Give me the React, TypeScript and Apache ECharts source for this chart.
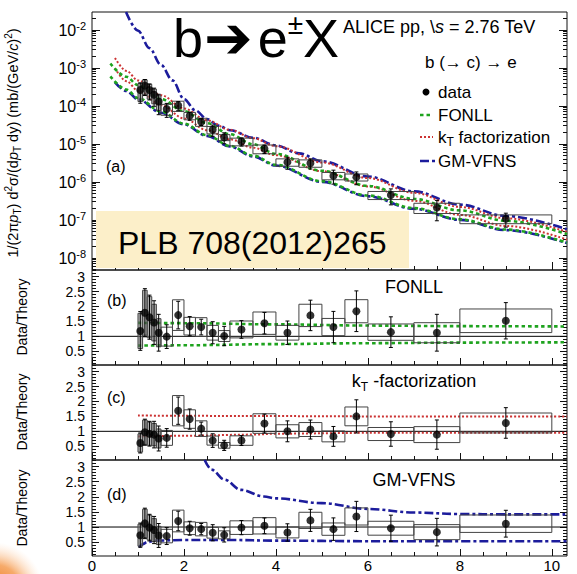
import React, { useEffect, useRef } from "react";
import * as echarts from "echarts";

const FONT = "'Liberation Sans', Arial, Helvetica, sans-serif";

// ---------- measured data (b -> e cross section) ----------
const binEdges = [1.0, 1.1, 1.2, 1.3, 1.4, 1.5, 1.75, 2.0, 2.25, 2.5, 2.75, 3.0, 3.5, 4.0, 4.5, 5.0, 5.5, 6.0, 7.0, 8.0, 10.0];
const ptCenters = [1.05, 1.15, 1.25, 1.35, 1.45, 1.625, 1.875, 2.125, 2.375, 2.625, 2.875, 3.25, 3.75, 4.25, 4.75, 5.25, 5.75, 6.5, 7.5, 9.0];
const dataValues = [2.6e-4, 3.4e-4, 2.6e-4, 1.95e-4, 1.3e-4, 8.3e-5, 1.02e-4, 5.5e-5, 3.8e-5, 2.35e-5, 1.48e-5, 1.15e-5, 7.4e-6, 3.3e-6, 3.1e-6, 1.45e-6, 1.33e-6, 4.5e-7, 2.1e-7, 1.07e-7];
const statRel = [0.55, 0.45, 0.45, 0.5, 0.55, 0.4, 0.27, 0.24, 0.2, 0.33, 0.32, 0.24, 0.25, 0.35, 0.3, 0.4, 0.37, 0.45, 0.55, 0.4];
const sysRel = [0.5, 0.42, 0.42, 0.42, 0.42, 0.32, 0.3, 0.22, 0.24, 0.22, 0.18, 0.23, 0.26, 0.22, 0.22, 0.22, 0.21, 0.24, 0.3, 0.26];

// ---------- data / theory ----------
const ratioFONLL = [1.18, 1.79, 1.64, 1.46, 1.12, 0.99, 1.71, 1.34, 1.31, 1.12, 1.01, 1.23, 1.44, 1.12, 1.7, 1.31, 1.84, 1.14, 1.12, 1.52];
const ratioKT = [0.61, 0.97, 0.92, 0.89, 0.76, 0.78, 1.69, 1.41, 1.09, 0.69, 0.53, 0.69, 1.26, 1.0, 1.06, 0.83, 1.5, 0.91, 0.89, 1.28];
const ratioGMVFNS = [0.73, 1.12, 0.98, 0.9, 0.72, 0.7, 1.2, 0.96, 0.93, 0.81, 0.74, 0.98, 1.04, 0.82, 1.22, 0.93, 1.35, 0.96, 0.83, 1.11];

// ---------- theory curves, top panel ----------
const fonllPt = [0.4, 0.75, 1, 1.5, 2, 2.5, 3, 3.5, 4, 5, 6, 7, 8, 9, 10.33];
const fonllUpper = [1.3e-3, 5.81e-4, 3.5e-4, 1.51e-4, 7.21e-5, 3.51e-5, 1.79e-5, 9.75e-6, 5.45e-6, 1.95e-6, 7.83e-7, 3.55e-7, 1.77e-7, 9.44e-8, 4.21e-8];
const fonllLower = [5.97e-4, 2.67e-4, 1.61e-4, 7.08e-5, 3.41e-5, 1.69e-5, 8.81e-6, 4.91e-6, 2.8e-6, 1.04e-6, 4.38e-7, 2.03e-7, 1.03e-7, 5.55e-8, 2.5e-8];
const ktPt = [0.5, 0.75, 1, 1.5, 2, 2.5, 3, 3.5, 4, 5, 6, 7, 8, 9, 10.33];
const ktUpper = [1.82e-3, 8.32e-4, 4.68e-4, 1.91e-4, 8.51e-5, 4.17e-5, 2.34e-5, 1.41e-5, 8.71e-6, 3.24e-6, 1.26e-6, 5.13e-7, 2.19e-7, 1.1e-7, 4.79e-8];
const ktLower = [9.77e-4, 4.47e-4, 2.51e-4, 1.05e-4, 4.68e-5, 2.29e-5, 1.32e-5, 7.94e-6, 5.01e-6, 1.91e-6, 7.59e-7, 3.16e-7, 1.35e-7, 6.92e-8, 3.02e-8];
const gmUpperPt = [0.74, 1, 1.25, 1.5, 1.75, 2, 2.25, 2.5, 2.75, 3, 3.5, 4, 4.5, 5, 6, 7, 8, 9, 10.33];
const gmUpper = [2.95e-2, 9.55e-3, 3.31e-3, 1.2e-3, 4.68e-4, 1.51e-4, 7.59e-5, 4.47e-5, 3.02e-5, 2.29e-5, 1.45e-5, 9.12e-6, 5.62e-6, 3.47e-6, 1.38e-6, 5.62e-7, 2.51e-7, 1.26e-7, 5.62e-8];
const gmLowerPt = [0.5, 0.75, 1, 1.5, 2, 2.5, 3, 3.5, 4, 5, 6, 7, 8, 9, 10.33];
const gmLower = [4.17e-4, 2.45e-4, 1.48e-4, 6.61e-5, 3.24e-5, 1.62e-5, 8.51e-6, 4.68e-6, 2.69e-6, 1.0e-6, 4.17e-7, 1.95e-7, 1.0e-7, 5.37e-8, 2.45e-8];

// ---------- theory uncertainty / central, ratio panels ----------
const fonllRatioPt = [1.0, 2, 4, 6, 8, 10.33];
const fonllRatioUp = [1.45, 1.44, 1.4, 1.36, 1.34, 1.33];
const fonllRatioLow = [0.69, 0.7, 0.74, 0.77, 0.79, 0.8];
const ktRatioPt = [1.0, 2, 3.5, 4, 6, 10.33];
const ktRatioUp = [1.53, 1.52, 1.51, 1.51, 1.5, 1.5];
const ktRatioLow = [0.83, 0.85, 0.89, 0.92, 0.95, 0.95];
const gmRatioUpPt = [2.45, 2.6, 2.88, 3.24, 3.74, 4, 5, 6, 7, 8, 9, 10.33];
const gmRatioUp = [3.22, 2.9, 2.57, 2.23, 2.01, 1.95, 1.79, 1.6, 1.48, 1.43, 1.42, 1.42];
const gmRatioLowPt = [1.02, 1.1, 1.2, 1.4, 2, 3, 4, 6, 10.33];
const gmRatioLow = [0.33, 0.43, 0.5, 0.55, 0.57, 0.57, 0.55, 0.53, 0.53];

// ---------- axes ----------
const X_MIN = 0;
const X_MAX = 10.33;
const LOG_MIN = -8.32;
const LOG_MAX = -1.53;
const R_MIN = 0.04;
const R_MAX = 3.22;
const xMajorTicks = [0, 2, 4, 6, 8, 10];
const xMinorTicks = Array.from({ length: 21 }, (_, k) => k * 0.5);
const topMajorTicks = [-8, -7, -6, -5, -4, -3, -2];
const topMinorTicks: number[] = [];
for (let n = -9; n <= -2; n++) {
  for (let k = 2; k <= 9; k++) {
    const v = n + Math.log10(k);
    if (v > LOG_MIN && v < LOG_MAX) topMinorTicks.push(v);
  }
}
const ratioMajorTicks = [0.5, 1, 1.5, 2, 2.5, 3];
const ratioMinorTicks = Array.from({ length: 32 }, (_, k) => Math.round((k + 1) * 10) / 100).filter((v) => v > R_MIN && v < R_MAX);

const GREEN = "#1ea31e";
const RED = "#cc3333";
const BLUE = "#1c1c9c";

const panels = [
  { top: 12, h: 258 },
  { top: 270, h: 95 },
  { top: 365, h: 95 },
  { top: 460, h: 96 },
];

function buildOption(): any {
  const L = 92;
  const W = 475;
  const lg = (v: number) => Math.log10(v);
  const ident = (v: number) => v;

  const grid = panels.map((p) => ({
    left: L,
    top: p.top,
    width: W,
    height: p.h,
    show: true,
    borderColor: "#111",
    borderWidth: 1,
    backgroundColor: "transparent",
    containLabel: false,
    outerBoundsMode: "none",
  }));

  const xAxis: any[] = [];
  const yAxis: any[] = [];
  panels.forEach((p, i) => {
    const base = {
      type: "value",
      gridIndex: i,
      min: X_MIN,
      max: X_MAX,
      position: "bottom",
      axisLine: { show: false, onZero: false },
      splitLine: { show: false },
    };
    xAxis.push({
      ...base,
      axisTick: { show: true, inside: true, length: i === 0 ? 8 : 7, customValues: xMajorTicks, lineStyle: { color: "#111", width: 1 } },
      axisLabel: {
        show: i === 3,
        customValues: xMajorTicks,
        margin: 2,
        fontSize: 15,
        lineHeight: 15,
        fontFamily: FONT,
        color: "#000",
      },
    });
    xAxis.push({
      ...base,
      axisTick: { show: true, inside: true, length: 4, customValues: xMinorTicks, lineStyle: { color: "#111", width: 1 } },
      axisLabel: { show: false },
    });

    const isTop = i === 0;
    const ybase = {
      type: "value",
      gridIndex: i,
      min: isTop ? LOG_MIN : R_MIN,
      max: isTop ? LOG_MAX : R_MAX,
      axisLine: { show: false, onZero: false },
      splitLine: { show: false },
    };
    const major = isTop ? topMajorTicks : ratioMajorTicks;
    const minor = isTop ? topMinorTicks : ratioMinorTicks;
    (["left", "right"] as const).forEach((pos) => {
      yAxis.push({
        ...ybase,
        position: pos,
        axisTick: { show: true, inside: true, length: isTop ? 8 : 7, customValues: major, lineStyle: { color: "#111", width: 1 } },
        axisLabel:
          pos === "left"
            ? isTop
              ? {
                  show: true,
                  customValues: major,
                  margin: 6,
                  formatter: (v: number) => `{b|10}{s|${Math.round(v)}}`,
                  rich: {
                    b: { fontSize: 16, lineHeight: 18, verticalAlign: "bottom", fontFamily: FONT, color: "#000" },
                    s: { fontSize: 11, lineHeight: 11, verticalAlign: "top", fontFamily: FONT, color: "#000" },
                  },
                }
              : {
                  show: true,
                  customValues: major,
                  margin: 7,
                  fontSize: 14,
                  fontFamily: FONT,
                  color: "#000",
                }
            : { show: false },
      });
      yAxis.push({
        ...ybase,
        position: pos,
        axisTick: { show: true, inside: true, length: 4, customValues: minor, lineStyle: { color: "#111", width: 1 } },
        axisLabel: { show: false },
      });
    });
  });

  const series: any[] = [];
  const line = (gi: number, pts: number[], vals: number[], color: string, width: number, dash: number[], tf: (v: number) => number) => {
    series.push({
      type: "line",
      xAxisIndex: 2 * gi,
      yAxisIndex: 4 * gi,
      data: pts.map((x, k) => [x, tf(vals[k])]),
      symbol: "none",
      smooth: 0.35,
      smoothMonotone: "x",
      lineStyle: { color, width, type: dash },
      silent: true,
      clip: true,
      z: 2,
    });
  };

  const boxes = (gi: number, centers: number[], tfLo: (k: number) => number, tfHi: (k: number) => number) => {
    series.push({
      type: "custom",
      xAxisIndex: 2 * gi,
      yAxisIndex: 4 * gi,
      clip: true,
      silent: true,
      z: 3,
      data: centers.map((_, k) => [binEdges[k], binEdges[k + 1], tfLo(k), tfHi(k)]),
      renderItem: (params: any, api: any) => {
        const x0 = api.value(0);
        const x1 = api.value(1);
        const p0 = api.coord([x0, api.value(3)]);
        const p1 = api.coord([x1, api.value(2)]);
        const narrow = x1 - x0 < 0.15;
        return {
          type: "rect",
          shape: { x: p0[0], y: p0[1], width: p1[0] - p0[0], height: p1[1] - p0[1] },
          style: { fill: narrow ? "rgba(125,125,125,0.6)" : "none", stroke: "#444", lineWidth: 1 },
        };
      },
    });
  };

  const errorBars = (gi: number, centers: number[], lo: (k: number) => number, hi: (k: number) => number) => {
    series.push({
      type: "custom",
      xAxisIndex: 2 * gi,
      yAxisIndex: 4 * gi,
      clip: true,
      silent: true,
      z: 4,
      data: centers.map((x, k) => [x, lo(k), hi(k)]),
      renderItem: (params: any, api: any) => {
        const x = api.value(0);
        const a = api.coord([x, api.value(1)]);
        const b = api.coord([x, api.value(2)]);
        const st = { stroke: "#000", lineWidth: 1 };
        return {
          type: "group",
          children: [
            { type: "line", shape: { x1: a[0], y1: a[1], x2: b[0], y2: b[1] }, style: st },
            { type: "line", shape: { x1: a[0] - 2, y1: a[1], x2: a[0] + 2, y2: a[1] }, style: st },
            { type: "line", shape: { x1: b[0] - 2, y1: b[1], x2: b[0] + 2, y2: b[1] }, style: st },
          ],
        };
      },
    });
  };

  const points = (gi: number, centers: number[], vals: number[]) => {
    series.push({
      type: "scatter",
      xAxisIndex: 2 * gi,
      yAxisIndex: 4 * gi,
      data: centers.map((x, k) => [x, vals[k]]),
      symbol: "circle",
      symbolSize: 8,
      itemStyle: { color: "#000" },
      silent: true,
      z: 5,
    });
  };

  const FONLL_DASH = [3.5, 3];
  const KT_DASH = [2, 2];
  const GM_DASH = [9, 3, 3, 3];

  // ----- panel (a) -----
  line(0, gmUpperPt, gmUpper, BLUE, 2.6, GM_DASH, lg);
  line(0, gmLowerPt, gmLower, BLUE, 2.6, GM_DASH, lg);
  line(0, ktPt, ktUpper, RED, 2, KT_DASH, lg);
  line(0, ktPt, ktLower, RED, 2, KT_DASH, lg);
  line(0, fonllPt, fonllUpper, GREEN, 2.6, FONLL_DASH, lg);
  line(0, fonllPt, fonllLower, GREEN, 2.6, FONLL_DASH, lg);
  boxes(0, ptCenters, (k) => lg(dataValues[k] * (1 - sysRel[k])), (k) => lg(dataValues[k] * (1 + sysRel[k])));
  errorBars(0, ptCenters, (k) => lg(dataValues[k] * (1 - statRel[k])), (k) => lg(dataValues[k] * (1 + statRel[k])));
  points(0, ptCenters, dataValues.map(lg));

  // ----- ratio panels -----
  const ratioPanel = (gi: number, ratios: number[], bands: () => void) => {
    series.push({
      type: "line",
      xAxisIndex: 2 * gi,
      yAxisIndex: 4 * gi,
      data: [[X_MIN, 1], [X_MAX, 1]],
      symbol: "none",
      lineStyle: { color: "#000", width: 1 },
      silent: true,
      z: 2,
    });
    bands();
    boxes(gi, ptCenters, (k) => ratios[k] * (1 - sysRel[k]), (k) => ratios[k] * (1 + sysRel[k]));
    errorBars(gi, ptCenters, (k) => ratios[k] * (1 - statRel[k]), (k) => ratios[k] * (1 + statRel[k]));
    points(gi, ptCenters, ratios);
  };
  ratioPanel(1, ratioFONLL, () => {
    line(1, fonllRatioPt, fonllRatioUp, GREEN, 2.6, FONLL_DASH, ident);
    line(1, fonllRatioPt, fonllRatioLow, GREEN, 2.6, FONLL_DASH, ident);
  });
  ratioPanel(2, ratioKT, () => {
    line(2, ktRatioPt, ktRatioUp, RED, 2, KT_DASH, ident);
    line(2, ktRatioPt, ktRatioLow, RED, 2, KT_DASH, ident);
  });
  ratioPanel(3, ratioGMVFNS, () => {
    line(3, gmRatioUpPt, gmRatioUp, BLUE, 2.6, GM_DASH, ident);
    line(3, gmRatioLowPt, gmRatioLow, BLUE, 2.6, GM_DASH, ident);
  });

  // ----- graphic texts -----
  const T = (x: number, y: number, text: string, fontSize: number, extra: any = {}, el: any = {}) => ({
    type: "text",
    x,
    y,
    z: 50,
    silent: true,
    ...el,
    style: {
      text,
      fontSize,
      fontFamily: FONT,
      fill: "#000",
      align: extra.align || "left",
      textAlign: extra.align || "left",
      verticalAlign: "middle",
      textVerticalAlign: "middle",
      ...extra,
    },
  });

  const subRich = (fs: number) => ({
    n: { fontSize: fs, lineHeight: fs + 5, verticalAlign: "middle", fontFamily: FONT, color: "#000" },
    i: { fontSize: fs, lineHeight: fs + 5, verticalAlign: "middle", fontFamily: FONT, fontStyle: "italic", color: "#000" },
    sub: { fontSize: Math.round(fs * 0.68), lineHeight: Math.round(fs * 0.68), verticalAlign: "bottom", fontFamily: FONT, color: "#000" },
    sup: { fontSize: Math.round(fs * 0.68), lineHeight: Math.round(fs * 0.68), verticalAlign: "top", fontFamily: FONT, color: "#000" },
  });

  const graphic: any[] = [
    // orange glow bottom-left
    {
      type: "circle",
      z: 1,
      silent: true,
      shape: { cx: -6, cy: 592, r: 50 },
      style: {
        fill: {
          type: "radial",
          x: 0.5,
          y: 0.5,
          r: 0.5,
          colorStops: [
            { offset: 0, color: "rgba(236,110,20,1)" },
            { offset: 0.55, color: "rgba(244,150,70,0.8)" },
            { offset: 1, color: "rgba(255,220,190,0)" },
          ],
        },
      },
    },
    // PLB box
    {
      type: "rect",
      z: 40,
      silent: true,
      shape: { x: 96, y: 211, width: 313, height: 57 },
      style: { fill: "#fcefc9" },
    },
    T(118, 243, "PLB 708(2012)265", 32),
    // title
    T(173, 38, "{t|b}{a|➔}{t|e}{p|±}{t|X}", 54, {
      rich: {
        t: { fontSize: 54, lineHeight: 56, verticalAlign: "middle", fontFamily: FONT, color: "#000" },
        a: { fontSize: 58, lineHeight: 56, verticalAlign: "middle", fontFamily: "'DejaVu Sans'", color: "#000", padding: [0, 5, 0, 1] },
        p: { fontSize: 28, lineHeight: 54, verticalAlign: "top", fontFamily: FONT, color: "#000" },
      },
    }),
    T(343, 27, "{n|ALICE pp, \\}{i|s}{n| = 2.76 TeV}", 18, {
      rich: {
        n: { fontSize: 18, lineHeight: 22, fontFamily: FONT, color: "#000" },
        i: { fontSize: 18, lineHeight: 22, fontFamily: FONT, fontStyle: "italic", color: "#000" },
      },
    }),
    T(425, 62, "b (→ c) → e", 17),
    // legend
    { type: "circle", z: 50, silent: true, shape: { cx: 426, cy: 92, r: 3.5 }, style: { fill: "#000" } },
    T(438, 92, "data", 17),
    { type: "line", z: 50, silent: true, shape: { x1: 420, y1: 115, x2: 433, y2: 115 }, style: { stroke: GREEN, lineWidth: 2.6, lineDash: FONLL_DASH } },
    T(438, 115, "FONLL", 17),
    { type: "line", z: 50, silent: true, shape: { x1: 420, y1: 137, x2: 433, y2: 137 }, style: { stroke: RED, lineWidth: 2, lineDash: KT_DASH } },
    T(438, 137, "{n|k}{sub|T}{n| factorization}", 17, { rich: subRich(17) }),
    { type: "line", z: 50, silent: true, shape: { x1: 420, y1: 161, x2: 436, y2: 161 }, style: { stroke: BLUE, lineWidth: 2.6, lineDash: GM_DASH } },
    T(438, 161, "GM-VFNS", 17),
    // panel labels
    T(106, 166, "(a)", 16),
    T(107, 300, "(b)", 16),
    T(107, 397, "(c)", 16),
    T(107, 494, "(d)", 16),
    // panel titles
    T(414, 287, "FONLL", 18, { align: "center" }),
    T(414, 381, "{n|k}{sub|T}{n| -factorization}", 18, { align: "center", rich: subRich(18) }),
    T(414, 480, "GM-VFNS", 18, { align: "center" }),
    // y titles
    T(13, 143, "{n|1/(2π}{i|p}{sub|T}{n|) d}{sup|2}{n|σ/(d}{i|p}{sub|T}{n| dy) (mb/(GeV/}{i|c}{n|)}{sup|2}{n|)}", 14.5, { align: "center", rich: subRich(14.5) }, { rotation: Math.PI / 2 }),
    T(22, 317, "Data/Theory", 14, { align: "center" }, { rotation: Math.PI / 2 }),
    T(22, 412, "Data/Theory", 14, { align: "center" }, { rotation: Math.PI / 2 }),
    T(22, 508, "Data/Theory", 14, { align: "center" }, { rotation: Math.PI / 2 }),
  ];

  return {
    animation: false,
    backgroundColor: "#fff",
    grid,
    xAxis,
    yAxis,
    series,
    graphic: { elements: graphic },
  };
}

export default function App() {
  const ref = useRef<HTMLDivElement>(null);
  useEffect(() => {
    if (!ref.current) return;
    const chart = echarts.init(ref.current, undefined, { renderer: "svg" });
    chart.setOption(buildOption());
    return () => chart.dispose();
  }, []);
  return (
    <div
      ref={ref}
      style={{ position: "absolute", left: 0, top: 0, width: 577, height: 574, background: "#fff" }}
    />
  );
}
